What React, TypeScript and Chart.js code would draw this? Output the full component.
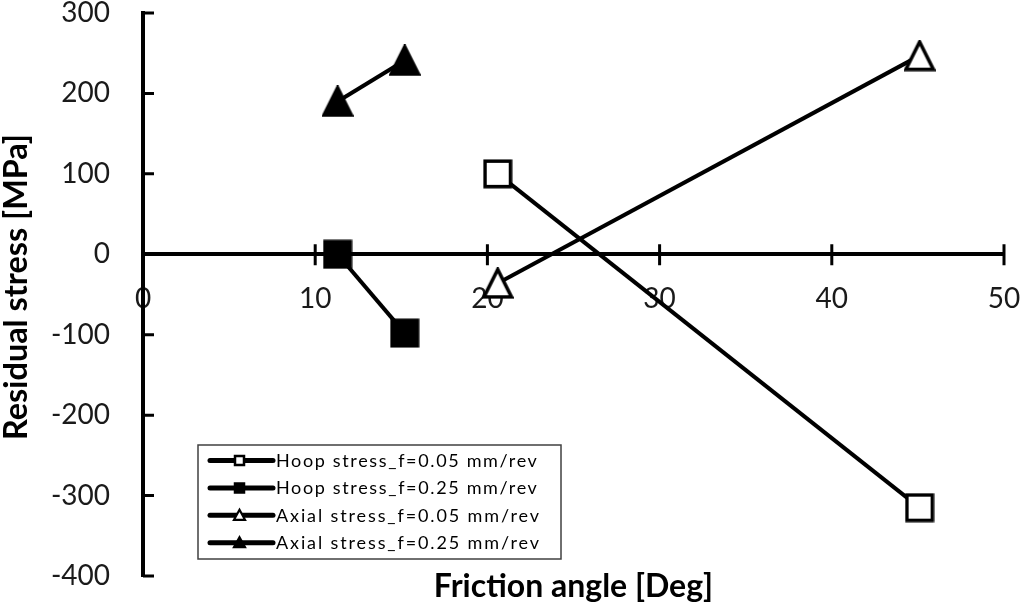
import React, { useEffect, useRef } from "react";
import { Chart, registerables } from "chart.js";

Chart.register(...registerables);

// ---- data ----
const seriesLabels = [
  "Hoop stress_f=0.05 mm/rev",
  "Hoop stress_f=0.25 mm/rev",
  "Axial stress_f=0.05 mm/rev",
  "Axial stress_f=0.25 mm/rev",
];
const hoopLowFeedAngle = [20.6, 45.1];
const hoopLowFeedStress = [100, -315];
const hoopHighFeedAngle = [11.3, 15.2];
const hoopHighFeedStress = [0, -98];
const axialLowFeedAngle = [20.6, 45.1];
const axialLowFeedStress = [-36, 247];
const axialHighFeedAngle = [11.3, 15.2];
const axialHighFeedStress = [190, 241];

const xMin = 0;
const xMax = 50;
const xStep = 10;
const yMin = -400;
const yMax = 300;
const yStep = 100;
const xTitle = "Friction angle [Deg]";
const yTitle = "Residual stress [MPa]";

// ---- styles ----
const markerShapes = ["square", "square", "triangle", "triangle"];
const markerFilled = [false, true, false, true];
const FONT = "Lato, 'Open Sans', sans-serif";

function pts(xs: number[], ys: number[]) {
  return xs.map((x, i) => ({ x, y: ys[i] }));
}

function pathMarker(
  g: CanvasRenderingContext2D,
  shape: string,
  cx: number,
  cy: number,
  w: number,
  h: number
) {
  g.beginPath();
  if (shape === "square") {
    g.rect(cx - w / 2, cy - h / 2, w, h);
  } else {
    g.moveTo(cx, cy - h / 2);
    g.lineTo(cx + w / 2, cy + h / 2);
    g.lineTo(cx - w / 2, cy + h / 2);
    g.closePath();
  }
}

function drawMarker(
  g: CanvasRenderingContext2D,
  shape: string,
  filled: boolean,
  cx: number,
  cy: number,
  w: number,
  h: number,
  lw: number
) {
  pathMarker(g, shape, cx, cy, w, h);
  g.fillStyle = filled ? "#000" : "#fff";
  g.fill();
  g.lineWidth = lw;
  g.strokeStyle = "#000";
  g.lineJoin = "miter";
  g.stroke();
}

function makeMarkerCanvas(shape: string, filled: boolean) {
  const size = shape === "square" ? 30 : 32;
  const c = document.createElement("canvas");
  c.width = size;
  c.height = size;
  const g = c.getContext("2d")!;
  const lw = 3.5;
  const inner = size - lw - 1;
  drawMarker(g, shape, filled, size / 2, size / 2, inner, inner, lw);
  return c;
}

const tickMarksPlugin = {
  id: "crossTicks",
  beforeDatasetsDraw(chart: any) {
    const { ctx, scales } = chart;
    const xs = scales.x;
    const ys = scales.y;
    const y0 = ys.getPixelForValue(0);
    const x0 = xs.getPixelForValue(xMin);
    ctx.save();
    ctx.strokeStyle = "#000";
    ctx.lineWidth = 3;
    ctx.beginPath();
    xs.ticks.forEach((t: any) => {
      const px = xs.getPixelForValue(t.value);
      ctx.moveTo(px, y0 - 10);
      ctx.lineTo(px, y0 + 11);
    });
    ys.ticks.forEach((t: any) => {
      const py = ys.getPixelForValue(t.value);
      ctx.moveTo(x0, py);
      ctx.lineTo(x0 + 11, py);
    });
    ctx.stroke();
    ctx.restore();
  },
};

const titlesPlugin = {
  id: "axisTitles",
  afterDraw(chart: any) {
    const { ctx, chartArea } = chart;
    ctx.save();
    ctx.fillStyle = "#000";
    ctx.font = `bold 32px ${FONT}`;
    ctx.textAlign = "center";
    ctx.textBaseline = "alphabetic";
    ctx.fillText(xTitle, (chartArea.left + chartArea.right) / 2, 597, 284);
    ctx.translate(27, 287);
    ctx.rotate(-Math.PI / 2);
    ctx.font = `bold 33px ${FONT}`;
    ctx.fillText(yTitle, 0, 0, 306);
    ctx.restore();
  },
};

const legendPlugin = {
  id: "insetLegend",
  afterDraw(chart: any) {
    const ctx = chart.ctx;
    const bx = 198;
    const by = 445;
    const bw = 363;
    const bh = 114;
    ctx.save();
    ctx.fillStyle = "#fff";
    ctx.fillRect(bx, by, bw, bh);
    ctx.strokeStyle = "#404040";
    ctx.lineWidth = 1.5;
    ctx.strokeRect(bx, by, bw, bh);
    chart.data.datasets.forEach((ds: any, i: number) => {
      const cy = 460.5 + i * 27.4;
      ctx.strokeStyle = "#000";
      ctx.lineWidth = 5;
      ctx.lineCap = "round";
      ctx.beginPath();
      ctx.moveTo(210, cy);
      ctx.lineTo(273, cy);
      ctx.stroke();
      const shape = markerShapes[i];
      if (shape === "square") drawMarker(ctx, shape, markerFilled[i], 239.5, cy, 9, 9, 2.5);
      else drawMarker(ctx, shape, markerFilled[i], 239.5, cy - 0.5, 11, 10, 2.2);
      ctx.fillStyle = "#000";
      ctx.font = `18px ${FONT}`;
      ctx.textAlign = "left";
      ctx.textBaseline = "middle";
      const label = String(ds.label);
      const target = label.startsWith("Axial") ? 263 : 261;
      (ctx as any).letterSpacing = "0px";
      const w = ctx.measureText(label).width;
      const sp = Math.max(0, (target - w) / Math.max(1, label.length - 1));
      (ctx as any).letterSpacing = `${sp.toFixed(2)}px`;
      ctx.fillText(label, 276, cy + 0.5);
      (ctx as any).letterSpacing = "0px";
    });
    ctx.restore();
  },
};

export default function App() {
  const ref = useRef<HTMLCanvasElement>(null);
  useEffect(() => {
    const xsets = [hoopLowFeedAngle, hoopHighFeedAngle, axialLowFeedAngle, axialHighFeedAngle];
    const ysets = [hoopLowFeedStress, hoopHighFeedStress, axialLowFeedStress, axialHighFeedStress];
    const datasets = seriesLabels.map((label, i) => ({
      label,
      data: pts(xsets[i], ysets[i]),
      showLine: true,
      borderColor: "#000",
      borderWidth: 4,
      pointStyle: makeMarkerCanvas(markerShapes[i], markerFilled[i]) as any,
      pointRadius: 15,
      pointBackgroundColor: markerFilled[i] ? "#000" : "#fff",
      pointBorderColor: "#000",
    }));
    const tickFont = { family: FONT, size: 28 };
    const chart = new Chart(ref.current!, {
      type: "scatter",
      data: { datasets },
      options: {
        responsive: false,
        animation: false,
        layout: { autoPadding: false, padding: { top: 13, right: 20, bottom: 26, left: 0 } },
        plugins: {
          legend: { display: false },
          tooltip: { enabled: false },
        },
        scales: {
          x: {
            type: "linear",
            min: xMin,
            max: xMax,
            position: { y: 0 } as any,
            ticks: { stepSize: xStep, padding: 28, color: "#1a1a1a", font: tickFont },
            grid: { display: false, drawTicks: false },
            border: { display: true, color: "#000", width: 4 },
            afterFit(s: any) {
              s.paddingLeft = 0;
              s.paddingRight = 0;
            },
          },
          y: {
            type: "linear",
            min: yMin,
            max: yMax,
            ticks: { stepSize: yStep, padding: 33, color: "#1a1a1a", font: tickFont },
            grid: { display: false, drawTicks: false },
            border: { display: true, color: "#000", width: 4 },
            afterFit(s: any) {
              s.width = 143;
              s.paddingTop = 0;
              s.paddingBottom = 0;
            },
          },
        },
      },
      plugins: [tickMarksPlugin, titlesPlugin, legendPlugin],
    });
    return () => chart.destroy();
  }, []);
  return (
    <div style={{ position: "absolute", left: 0, top: 0, width: 1024, height: 602, background: "#fff" }}>
      <canvas ref={ref} width={1024} height={602} style={{ display: "block" }} />
    </div>
  );
}
